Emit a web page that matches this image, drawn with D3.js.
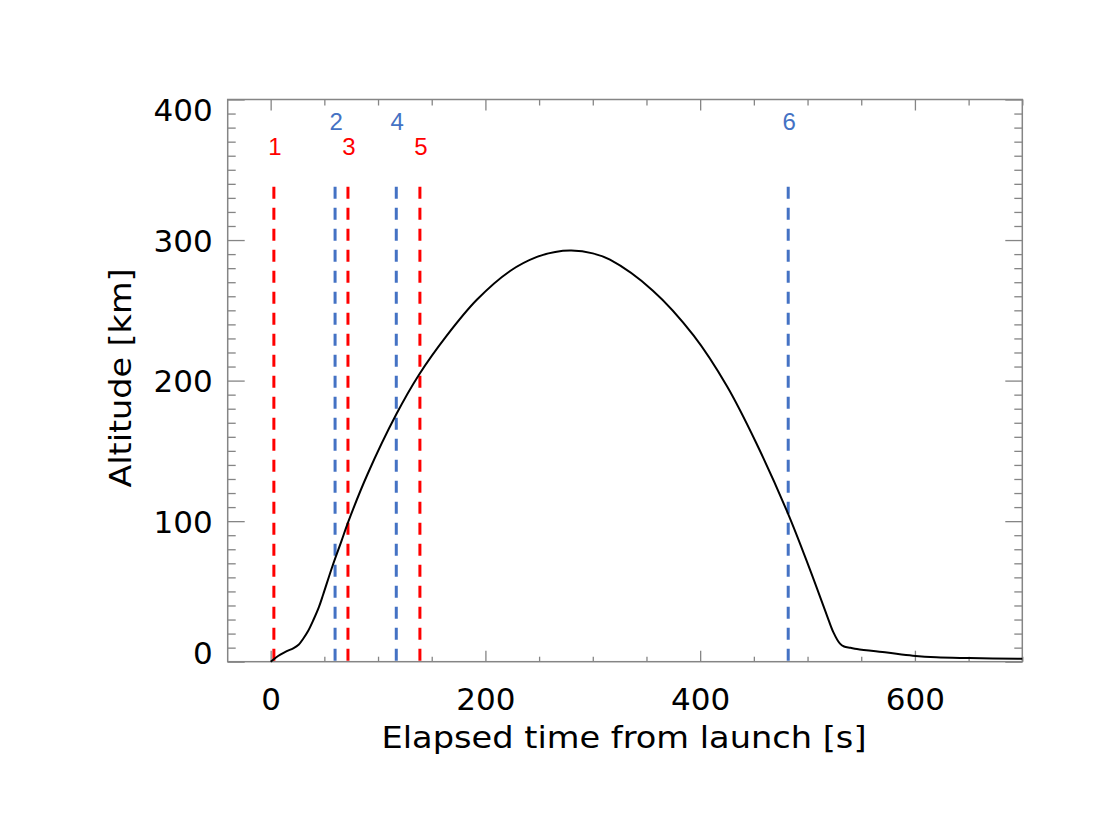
<!DOCTYPE html>
<html>
<head>
<meta charset="utf-8">
<script src="https://cdn.jsdelivr.net/npm/d3@7/dist/d3.min.js"></script>
<style>
  html, body { margin: 0; padding: 0; background: #fff; }
  svg { display: block; }
</style>
</head>
<body>
<div id="chart"></div>
<script>
// ---- data ----
const timeS = [0, 5, 9, 15, 21, 26, 30, 35, 40, 45, 49, 58, 66, 72, 90, 117, 138, 164, 192, 223, 248, 265, 280, 300, 316, 356, 394, 425, 452, 482, 502, 518, 524, 530, 534, 540, 546, 574, 598, 620, 651, 700];
const altitudeKm = [0, 3, 5, 7.5, 9.5, 12, 16, 22, 30, 39, 48, 69, 86, 99, 133, 176, 204, 232, 257.5, 278, 288, 291.5, 292.5, 290.5, 286, 264, 232, 196, 156, 105, 66, 33, 21, 13, 10.8, 9.9, 9, 6.5, 4.3, 3.1, 2.6, 2.1];

const eventTimes = [3, 60, 72, 117, 139, 482];
const eventLabels = ["1", "2", "3", "4", "5", "6"];
const eventGroups = ["red", "blue", "red", "blue", "red", "blue"];
const eventTop = 338;

const xMajorTicks = [0, 200, 400, 600];
const yMajorTicks = [0, 100, 200, 300, 400];
const xTitle = "Elapsed time from launch [s]";
const yTitle = "Altitude [km]";

// ---- layout ----
const W = 1112, H = 818;
const pLeft = 227.7, pRight = 1022.3, pTop = 99.5, pBottom = 661.7;
const groupColor = { red: "#ff0000", blue: "#4472c4" };
const frameColor = "#858585";
const font = "'DejaVu Sans', 'Noto Sans', sans-serif";
const fontSize = 31;

const svg = d3.select("#chart").append("svg").attr("width", W).attr("height", H);

const x = d3.scaleLinear().domain([-40, 700]).range([pLeft, pRight]);
const y = d3.scaleLinear().domain([0, 400]).range([pBottom, pTop]);

const xMinor = d3.range(0, 701, 50).filter(v => !xMajorTicks.includes(v));
const yMinor = d3.range(0, 401, 10).filter(v => !yMajorTicks.includes(v));

function styleAxis(g) {
  g.select(".domain").remove();
  g.selectAll(".tick line").attr("stroke", frameColor).attr("stroke-width", 1.3);
  g.selectAll("text").attr("font-family", font).attr("font-size", fontSize).attr("fill", "#000");
}

// minor ticks (no labels)
svg.append("g").attr("transform", `translate(0,${pBottom})`)
  .call(d3.axisBottom(x).tickValues(xMinor).tickSizeInner(-5).tickSizeOuter(0).tickFormat(""))
  .call(styleAxis);
svg.append("g").attr("transform", `translate(0,${pTop})`)
  .call(d3.axisTop(x).tickValues(xMinor).tickSizeInner(-6).tickSizeOuter(0).tickFormat(""))
  .call(styleAxis);
svg.append("g").attr("transform", `translate(${pLeft},0)`)
  .call(d3.axisLeft(y).tickValues(yMinor).tickSizeInner(-8).tickSizeOuter(0).tickFormat(""))
  .call(styleAxis);
svg.append("g").attr("transform", `translate(${pRight},0)`)
  .call(d3.axisRight(y).tickValues(yMinor).tickSizeInner(-8).tickSizeOuter(0).tickFormat(""))
  .call(styleAxis);

// major ticks
svg.append("g").attr("transform", `translate(0,${pBottom})`)
  .call(d3.axisBottom(x).tickValues(xMajorTicks).tickSizeInner(-11).tickSizeOuter(0).tickPadding(24).tickFormat(d3.format("d")))
  .call(styleAxis)
  .call(g => g.selectAll("text").attr("dy", 0).attr("y", 48.3));
svg.append("g").attr("transform", `translate(0,${pTop})`)
  .call(d3.axisTop(x).tickValues(xMajorTicks).tickSizeInner(-11).tickSizeOuter(0).tickFormat(""))
  .call(styleAxis);
svg.append("g").attr("transform", `translate(${pLeft},0)`)
  .call(d3.axisLeft(y).tickValues(yMajorTicks).tickSizeInner(-17).tickSizeOuter(0).tickPadding(15).tickFormat(d3.format("d")))
  .call(styleAxis)
  .call(g => g.selectAll("text").attr("dy", "0.36em")
    .attr("transform", d => d === 400 ? "translate(0,10)" : d === 0 ? "translate(0,-9)" : null));
svg.append("g").attr("transform", `translate(${pRight},0)`)
  .call(d3.axisRight(y).tickValues(yMajorTicks).tickSizeInner(-17).tickSizeOuter(0).tickFormat(""))
  .call(styleAxis);

// frame
svg.append("rect")
  .attr("x", pLeft).attr("y", pTop)
  .attr("width", pRight - pLeft).attr("height", pBottom - pTop)
  .attr("fill", "none").attr("stroke", frameColor).attr("stroke-width", 1.5);

// event markers
const events = eventTimes.map((t, i) => ({ t, label: eventLabels[i], group: eventGroups[i] }));
svg.append("g").selectAll("line").data(events).join("line")
  .attr("x1", d => x(d.t)).attr("x2", d => x(d.t))
  .attr("y1", y(eventTop)).attr("y2", pBottom)
  .attr("stroke", d => groupColor[d.group])
  .attr("stroke-width", 3)
  .attr("stroke-dasharray", "12,9");

svg.append("g").selectAll("text").data(events).join("text")
  .attr("x", d => x(d.t) + 1)
  .attr("y", d => d.group === "red" ? 155 : 130)
  .attr("text-anchor", "middle")
  .attr("font-family", "'Liberation Sans', Arial, sans-serif")
  .attr("font-size", 24)
  .attr("fill", d => groupColor[d.group])
  .text(d => d.label);

// trajectory
const pts = timeS.map((t, i) => [t, altitudeKm[i]]);
svg.append("path")
  .datum(pts)
  .attr("fill", "none")
  .attr("stroke", "#000")
  .attr("stroke-width", 2)
  .attr("d", d3.line().x(d => x(d[0])).y(d => y(d[1])).curve(d3.curveCatmullRom.alpha(0.5)));

// titles
svg.append("text")
  .attr("x", 624).attr("y", 748.3)
  .attr("text-anchor", "middle")
  .attr("font-family", font).attr("font-size", fontSize)
  .attr("textLength", 485).attr("lengthAdjust", "spacingAndGlyphs")
  .text(xTitle);

svg.append("text")
  .attr("transform", "translate(131,378) rotate(-90)")
  .attr("text-anchor", "middle")
  .attr("font-family", font).attr("font-size", fontSize)
  .attr("textLength", 219).attr("lengthAdjust", "spacingAndGlyphs")
  .text(yTitle);
</script>
</body>
</html>
